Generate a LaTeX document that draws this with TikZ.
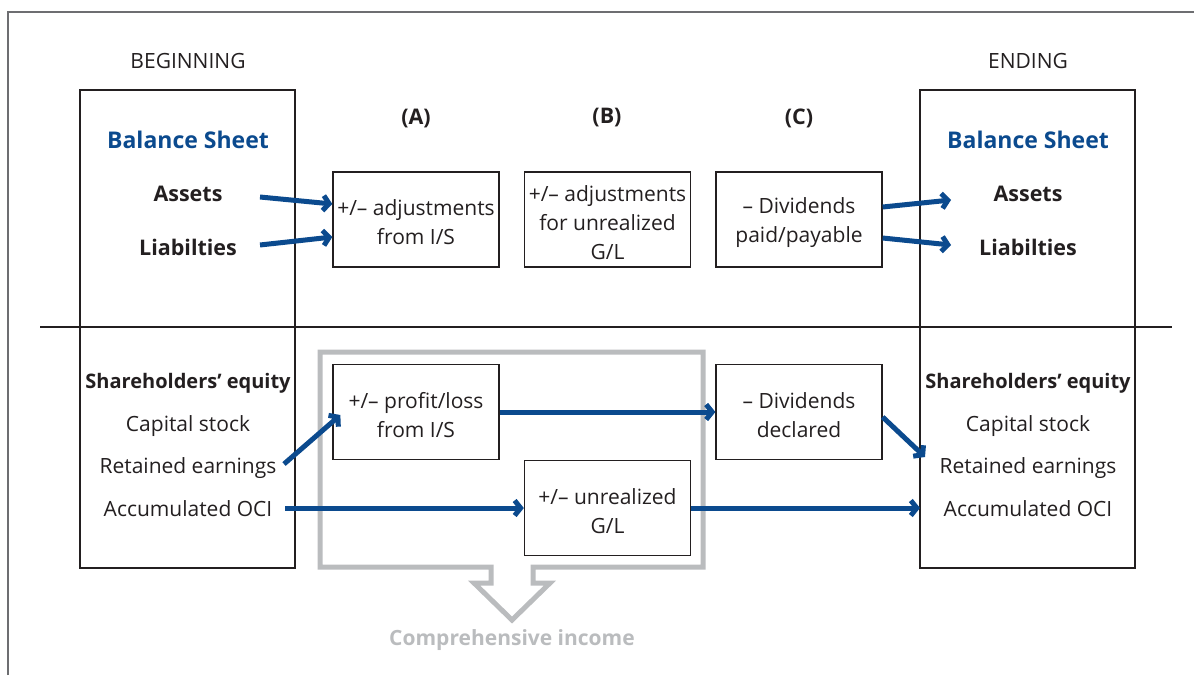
\documentclass[tikz,border=0pt]{standalone}
\usepackage{fontspec}
\setmainfont{Open Sans}
\usetikzlibrary{arrows.meta}
\definecolor{bl}{HTML}{0B4A8E}
\definecolor{gr}{HTML}{BABCBE}
\definecolor{tx}{HTML}{231F20}
\definecolor{frm}{HTML}{6D6E71}
\newcommand{\tpstrut}{\rule{0pt}{22pt}}
\begin{document}
\begin{tikzpicture}[x=1pt,y=-1pt,
  txt/.style={font=\fontsize{21}{29}\selectfont, text=tx, align=center, inner sep=0pt},
  btxt/.style={font=\fontsize{20}{28}\selectfont\bfseries, text=tx, align=center, inner sep=0pt},
  bbtxt/.style={font=\fontsize{21.5}{28}\selectfont\bfseries, text=tx, align=center, inner sep=0pt},
  ttl/.style={font=\fontsize{23}{28}\selectfont\bfseries, text=bl, align=center, inner sep=0pt},
  bigbox/.style={draw=tx, line width=1.3pt, minimum width=215pt, minimum height=478pt, inner sep=0pt},
  smbox/.style={draw=tx, line width=1.3pt, minimum width=166pt, minimum height=95pt, inner sep=0pt,
    font=\fontsize{21}{29}\selectfont, text=tx, align=center},
  flow/.style={draw=bl, line width=5pt, -{Straight Barb[length=6pt,width=15pt]}},
]
\useasboundingbox (0,0) rectangle (1194,675);
% outer frame
\draw[frm, line width=1.2pt] (8,675) -- (8,12) -- (1194,12);

% big boxes
\node[bigbox] (L) at (187.5,329) {};
\node[bigbox] (R) at (1027.5,329) {};

% divider
\draw[tx, line width=2pt] (40,327) -- (1172,327);

% headers
\node[txt, anchor=base] (beg) at (188,68) {BEGINNING};
\node[txt, anchor=base] (end) at (1028,68) {ENDING};

% left column
\node[ttl, anchor=base] (bsL) at (188,148) {Balance Sheet};
\node[bbtxt, anchor=base] (asL) at (188,201) {Assets};
\node[bbtxt, anchor=base] (liL) at (188,255) {Liabilties};
\node[btxt, anchor=base] (shL) at (188,388) {Shareholders’ equity};
\node[txt, anchor=base] (csL) at (188,431) {Capital stock};
\node[txt, anchor=base] (reL) at (188,473) {Retained earnings};
\node[txt, anchor=base] (ocL) at (188,516) {Accumulated OCI};

% right column
\node[ttl, anchor=base] (bsR) at (1028,148) {Balance Sheet};
\node[bbtxt, anchor=base] (asR) at (1028,201) {Assets};
\node[bbtxt, anchor=base] (liR) at (1028,255) {Liabilties};
\node[btxt, anchor=base] (shR) at (1028,388) {Shareholders’ equity};
\node[txt, anchor=base] (csR) at (1028,431) {Capital stock};
\node[txt, anchor=base] (reR) at (1028,473) {Retained earnings};
\node[txt, anchor=base] (ocR) at (1028,516) {Accumulated OCI};

% column labels
\node[bbtxt] (la) at (416,118) {(A)};
\node[bbtxt] (lb) at (607,118) {(B)};
\node[bbtxt] (lc) at (799,118) {(C)};

% top boxes
\node[smbox] (A) at (416,219.5) {\tpstrut+/– adjustments\\from I/S};
\node[smbox] (B) at (607.5,219.5) {\tpstrut+/– adjustments\\for unrealized\\G/L};
\node[smbox] (C) at (799,219.5) {\tpstrut– Dividends\\paid/payable};

% comprehensive income frame
\draw[gr, line width=5pt, line join=miter]
  (491,567) -- (320,567) -- (320,352) -- (703,352) -- (703,567) -- (533,567)
  -- (533,583) -- (550,583) -- (512,620) -- (474,583) -- (491,583) -- cycle;
\node[font=\fontsize{21}{24}\selectfont\bfseries, text=gr, inner sep=0pt] (ci) at (512,640) {Comprehensive income};

% bottom boxes
\node[smbox] (P) at (416,412) {\tpstrut+/– profit/loss\\from I/S};
\node[smbox] (D) at (799,412) {\tpstrut– Dividends\\declared};
\node[smbox] (U) at (607.5,508) {\tpstrut+/– unrealized\\G/L};

% arrow start points
\coordinate (asLs) at (260,197);
\coordinate (liLs) at (260,245);
\coordinate (reLs) at (284,464);
\coordinate (ocLs) at (285,508);
\coordinate (asRe) at (951,200);
\coordinate (liRe) at (951,245);
\coordinate (reRe) at (925,457);
\coordinate (ocRe) at (920,508);

% flows
\draw[flow] (asLs) -- ([yshift=15.5pt]A.west);
\draw[flow] (liLs) -- ([yshift=-17.5pt]A.west);
\draw[flow] ([yshift=12.5pt]C.east) -- (asRe);
\draw[flow] ([yshift=-18.5pt]C.east) -- (liRe);
\draw[flow] (reLs) -- ([xshift=8pt,yshift=-3pt]P.west);
\draw[flow] (P.east) -- (D.west);
\draw[flow] ([yshift=-5pt]D.east) -- (reRe);
\draw[flow] (ocLs) -- (U.west);
\draw[flow] (U.east) -- (ocRe);
\end{tikzpicture}
\end{document}
